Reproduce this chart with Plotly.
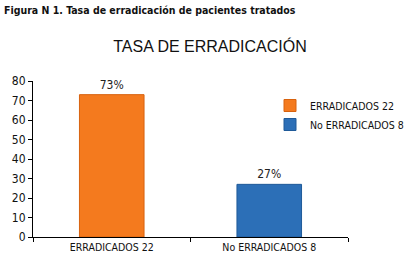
import plotly.graph_objects as go

categories = ["ERRADICADOS 22", "No ERRADICADOS 8"]
values = [73, 27]
labels = ["73%", "27%"]
colors = ["#F47A1E", "#2C6FB7"]
line_colors = ["#D8620E", "#1F5A99"]
y_ticks = [0, 10, 20, 30, 40, 50, 60, 70, 80]

narrow = "DejaVu Sans Condensed, Liberation Sans Narrow, sans-serif"

fig = go.Figure()
for i, cat in enumerate(categories):
    fig.add_trace(go.Bar(
        x=[cat], y=[values[i]], name=cat,
        text=[labels[i]], textposition="outside",
        textfont=dict(family=narrow, size=12, color="#222"),
        marker=dict(color=colors[i], line=dict(color=line_colors[i], width=1)),
        width=0.41, cliponaxis=False,
    ))

fig.update_layout(
    width=410, height=263,
    margin=dict(l=33, r=62, t=81, b=26, autoexpand=False),
    paper_bgcolor="white", plot_bgcolor="white",
    showlegend=True, barmode="overlay",
    title=dict(text="TASA DE ERRADICACIÓN", x=210/410, xanchor="center", xref="container",
               y=1 - 46/263, yanchor="middle", yref="container",
               font=dict(family="Liberation Sans, Arial, sans-serif", size=16, color="#111")),
    legend=dict(x=(270-33)/315, y=(237-91)/156, xanchor="left", yanchor="top",
                bgcolor="rgba(0,0,0,0)",
                font=dict(family=narrow, size=10.5, color="#111"), itemwidth=30),
    annotations=[dict(text="<b>Figura N 1. Tasa de erradicación de pacientes tratados</b>",
                      xref="paper", yref="paper", x=(2-33)/315, y=(237-10)/156,
                      xanchor="left", yanchor="middle", showarrow=False,
                      font=dict(family=narrow, size=10.5, color="#111"))],
)
fig.update_xaxes(showline=True, linecolor="black", linewidth=1, ticks="outside",
                 tickson="boundaries", ticklen=4, tickcolor="black", tickangle=0,
                 automargin=False,
                 tickfont=dict(family=narrow, size=10.5, color="#111"), showgrid=False)
fig.update_yaxes(range=[0, 80], tickvals=y_ticks, showline=True, linecolor="black",
                 linewidth=1, ticks="outside", ticklen=4, tickcolor="black",
                 automargin=False,
                 tickfont=dict(family=narrow, size=12, color="#111"), showgrid=False,
                 zeroline=False)

fig.write_html("out.html", config={"displayModeBar": False},
               post_script="document.body.style.margin='0';")
